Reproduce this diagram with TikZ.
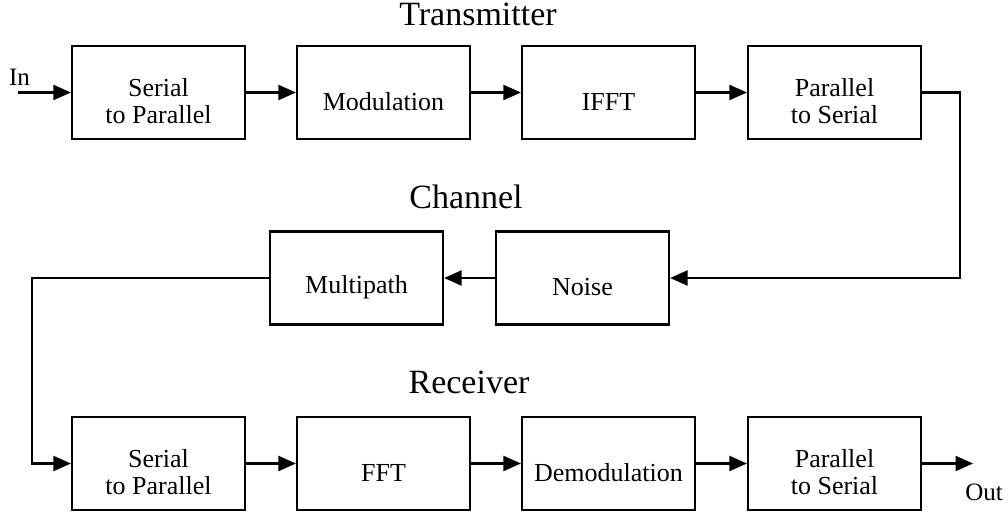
\documentclass[tikz,border=0pt]{standalone}
\usepackage{fontspec}
\setmainfont{Liberation Serif}
\usetikzlibrary{arrows.meta}
\tikzset{
  blk/.style={draw=black, line width=2.2pt, minimum width=173pt, minimum height=93pt, inner sep=0pt},
  blktext/.style={align=center, font=\fontsize{26}{27}\selectfont, inner sep=0pt},
  ttl/.style={font=\fontsize{34}{36}\selectfont, anchor=base, inner sep=0pt},
  lbl/.style={font=\fontsize{25}{27}\selectfont, anchor=base, inner sep=0pt},
  arr/.style={line width=2.2pt, -{Triangle[length=17.5pt, width=15pt]}}
}
\begin{document}
\begin{tikzpicture}[x=1pt, y=-1pt]
\useasboundingbox (0,0) rectangle (1008,513);
% titles
\node[ttl] (ttx) at (478,26) {Transmitter};
\node[ttl] (tch) at (466,208) {Channel};
\node[ttl] (trx) at (469,393) {Receiver};
% transmitter row
\node[blk] (t1) at (158.5,92.5) {};
\node[blk] (t2) at (383.5,92.5) {};
\node[blk] (t3) at (608.5,92.5) {};
\node[blk] (t4) at (834.5,92.5) {};
\node[blktext] (t1l) at ([yshift=-9pt]t1.center) {Serial\\to Parallel};
\node[blktext] (t2l) at ([yshift=-9pt]t2.center) {Modulation};
\node[blktext] (t3l) at ([yshift=-9pt]t3.center) {IFFT};
\node[blktext] (t4l) at ([yshift=-9pt]t4.center) {Parallel\\to Serial};
% channel row
\node[blk] (mp) at (356.5,278) {};
\node[blk] (ns) at (582.5,278) {};
\node[blktext] (mpl) at ([yshift=-9pt]mp.center) {Multipath};
\node[blktext] (nsl) at ([yshift=-9pt]ns.center) {Noise};
% receiver row
\node[blk] (r1) at (158.5,463.5) {};
\node[blk] (r2) at (383.5,463.5) {};
\node[blk] (r3) at (608.5,463.5) {};
\node[blk] (r4) at (834.5,463.5) {};
\node[blktext] (r1l) at ([yshift=-9pt]r1.center) {Serial\\to Parallel};
\node[blktext] (r2l) at ([yshift=-9pt]r2.center) {FFT};
\node[blktext] (r3l) at ([yshift=-9pt]r3.center) {Demodulation};
\node[blktext] (r4l) at ([yshift=-9pt]r4.center) {Parallel\\to Serial};
% labels
\node[lbl] (inl) at (19.5,86) {In};
\node[lbl] (outl) at (984,500) {Out};
% coordinates
\coordinate (inp) at (18,92.5);
\coordinate (outp) at (973,463.5);
\coordinate (cr) at (960,0);
\coordinate (cl) at (32,0);
% connectors
\draw[arr] (inp) -- (t1.west);
\draw[arr] (t1.east) -- (t2.west);
\draw[arr] (t2.east) -- (t3.west);
\draw[arr] (t3.east) -- (t4.west);
\draw[arr] (t4.east) -- (t4.east -| cr) |- (ns.east);
\draw[arr] (ns.west) -- (mp.east);
\draw[arr] (mp.west) -- (mp.west -| cl) |- (r1.west);
\draw[arr] (r1.east) -- (r2.west);
\draw[arr] (r2.east) -- (r3.west);
\draw[arr] (r3.east) -- (r4.west);
\draw[arr] (r4.east) -- (outp);
\end{tikzpicture}
\end{document}
